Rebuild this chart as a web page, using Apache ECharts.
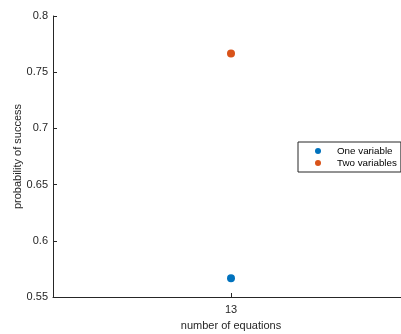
<!DOCTYPE html>
<html>
<head>
<meta charset="utf-8">
<script src="https://cdn.jsdelivr.net/npm/echarts@6/dist/echarts.min.js"></script>
<style>
  html, body { margin: 0; padding: 0; background: #fff; }
  #chart { width: 401px; height: 334px; }
</style>
</head>
<body>
<div id="chart"></div>
<script>
// Success probability for 13 equations, one vs. two unknowns
const categories = ['13'];
const oneVariable = [0.5667];
const twoVariables = [0.7667];
const seriesNames = ['One variable', 'Two variables'];

const ink = '#262626';
const font = 'Liberation Sans, Arial, Helvetica, sans-serif';

const chart = echarts.init(document.getElementById('chart'), null, { renderer: 'canvas' });

chart.setOption({
  animation: false,
  backgroundColor: '#ffffff',
  grid: { left: 53, top: 16, bottom: 37, right: -8, containLabel: false, outerBoundsMode: 'none' },
  legend: {
    orient: 'vertical',
    left: 298,
    top: 142,
    data: seriesNames,
    icon: 'circle',
    itemWidth: 6,
    itemHeight: 6,
    itemGap: 0,
    padding: [3, 4, 3, 17],
    borderColor: ink,
    borderWidth: 1,
    borderRadius: 0,
    backgroundColor: '#ffffff',
    textStyle: { fontFamily: font, fontSize: 9.8, color: '#000', lineHeight: 12, padding: [0, 0, 0, 11] }
  },
  xAxis: {
    type: 'category',
    data: categories,
    boundaryGap: true,
    name: 'number of equations',
    nameLocation: 'middle',
    nameGap: 23,
    nameMoveOverlap: false,
    nameTextStyle: { fontFamily: font, fontSize: 11, color: ink },
    axisLine: { show: true, lineStyle: { color: ink, width: 1 } },
    axisTick: { show: true, inside: true, length: 4, alignWithLabel: true, lineStyle: { color: ink } },
    axisLabel: { fontFamily: font, fontSize: 11, color: ink, margin: 7 },
    splitLine: { show: false }
  },
  yAxis: {
    type: 'value',
    min: 0.55,
    max: 0.8,
    interval: 0.05,
    name: 'probability of success',
    nameLocation: 'middle',
    nameGap: 30,
    nameMoveOverlap: false,
    nameTextStyle: { fontFamily: font, fontSize: 11, color: ink },
    axisLine: { show: true, lineStyle: { color: ink, width: 1 } },
    axisTick: { show: true, inside: true, length: 4, lineStyle: { color: ink } },
    axisLabel: { fontFamily: font, fontSize: 11, color: ink, margin: 5 },
    splitLine: { show: false }
  },
  series: [
    {
      name: seriesNames[0],
      type: 'scatter',
      data: oneVariable,
      symbol: 'circle',
      symbolSize: 8,
      itemStyle: { color: '#0072BD', opacity: 1 }
    },
    {
      name: seriesNames[1],
      type: 'scatter',
      data: twoVariables,
      symbol: 'circle',
      symbolSize: 8,
      itemStyle: { color: '#D95319', opacity: 1 }
    }
  ]
});
</script>
</body>
</html>
